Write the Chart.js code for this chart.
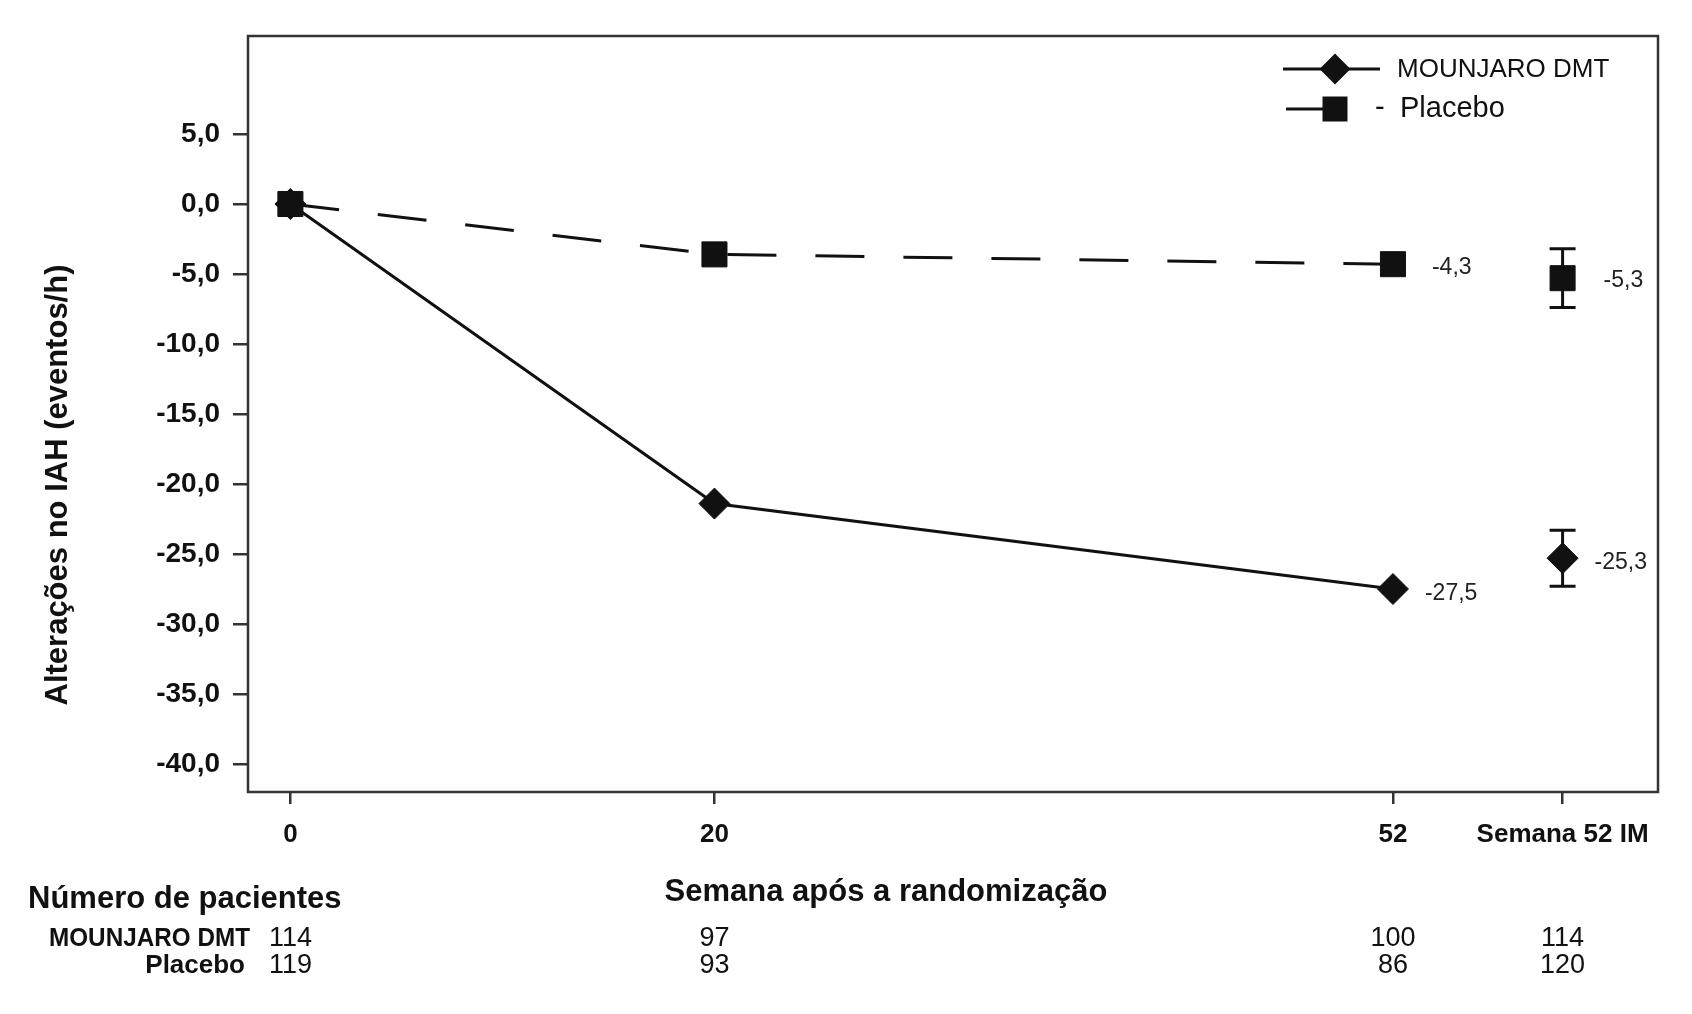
<!DOCTYPE html>
<html>
<head>
<meta charset="utf-8">
<script src="https://cdn.jsdelivr.net/npm/chart.js@4.4.1/dist/chart.umd.min.js"></script>
<style>
  html, body { margin: 0; padding: 0; background: #fff; }
  #wrap { width: 1692px; height: 1014px; }
</style>
</head>
<body>
<div id="wrap"><canvas id="iahChart" width="1692" height="1014"></canvas></div>
<script>
// values
const weeks = [0, 20, 52];
const imWeek = 60; // slot of "Semana 52 IM" on the week axis
const tirzValues = [0, -21.4, -27.5];
const placeboValues = [0, -3.6, -4.3];
const tirzIM = -25.3;
const placeboIM = -5.3;
const tirzIMci = [-27.3, -23.3];
const placeboIMci = [-7.4, -3.2];

const xTickValues = [0, 20, 52, 60];
const xTickLabels = ['0', '20', '52', 'Semana 52 IM'];
const yTickValues = [5, 0, -5, -10, -15, -20, -25, -30, -35, -40];

const seriesNames = ['MOUNJARO DMT', 'Placebo'];
const nTirz = [114, 97, 100, 114];
const nPlacebo = [119, 93, 86, 120];

const FONT = '"Liberation Sans", Arial, Helvetica, sans-serif';
const ink = '#111';
const frameColor = '#333';
Chart.defaults.font.family = FONT;

const toPts = (xs, ys) => xs.map((x, i) => ({ x: x, y: ys[i] }));
const fmt = v => v.toFixed(1).replace('.', ',');

function marker(ctx, style, x, y) {
  ctx.beginPath();
  if (style === 'rectRot') {
    const r = 15.5;
    ctx.moveTo(x - r, y); ctx.lineTo(x, y - r); ctx.lineTo(x + r, y); ctx.lineTo(x, y + r);
  } else {
    const h = 12.5;
    ctx.rect(x - h, y - h, 2 * h, 2 * h);
  }
  ctx.closePath();
  ctx.fill();
}

// error bars, frame, legend, value labels, titles and the patient table
const decor = {
  id: 'decor',
  beforeDatasetsDraw(chart) {
    const { ctx, scales: { x, y } } = chart;
    ctx.save();
    ctx.strokeStyle = ink;
    ctx.lineWidth = 3;
    [tirzIMci, placeboIMci].forEach(ci => {
      const px = x.getPixelForValue(imWeek);
      const y0 = y.getPixelForValue(ci[0]);
      const y1 = y.getPixelForValue(ci[1]);
      ctx.beginPath();
      ctx.moveTo(px, y0); ctx.lineTo(px, y1);
      ctx.moveTo(px - 13, y0); ctx.lineTo(px + 13, y0);
      ctx.moveTo(px - 13, y1); ctx.lineTo(px + 13, y1);
      ctx.stroke();
    });
    ctx.restore();
  },
  afterDatasetsDraw(chart) {
    const { ctx, chartArea: a, scales: { x, y } } = chart;
    ctx.save();

    // frame
    ctx.strokeStyle = frameColor;
    ctx.lineWidth = 2.5;
    ctx.strokeRect(a.left, a.top, a.right - a.left, a.bottom - a.top);

    // legend
    ctx.fillStyle = ink;
    ctx.strokeStyle = ink;
    ctx.lineWidth = 3;
    ctx.beginPath();
    ctx.moveTo(1283, 69); ctx.lineTo(1380, 69);
    ctx.moveTo(1286, 109); ctx.lineTo(1335, 109);
    ctx.stroke();
    marker(ctx, 'rectRot', 1335, 69);
    marker(ctx, 'rect', 1335, 109);
    ctx.textBaseline = 'middle';
    ctx.textAlign = 'left';
    ctx.font = '26px ' + FONT;
    ctx.fillText(seriesNames[0], 1397, 70);
    ctx.font = '29px ' + FONT;
    ctx.fillText('-', 1375, 108);
    ctx.fillText(seriesNames[1], 1400, 109);

    // value labels
    ctx.font = '23px ' + FONT;
    ctx.fillStyle = '#222';
    const lab = (wk, v, dx, dy) =>
      ctx.fillText(fmt(v), x.getPixelForValue(wk) + dx, y.getPixelForValue(v) + dy);
    lab(weeks[2], placeboValues[2], 39, 3);
    lab(weeks[2], tirzValues[2], 32, 5);
    lab(imWeek, placeboIM, 41, 2);
    lab(imWeek, tirzIM, 32, 4);

    // axis titles
    ctx.fillStyle = ink;
    ctx.font = 'bold 31px ' + FONT;
    ctx.textAlign = 'center';
    ctx.fillText('Semana após a randomização', 886, 892);
    ctx.save();
    ctx.translate(58, 485);
    ctx.rotate(-Math.PI / 2);
    ctx.font = 'bold 31px ' + FONT;
    ctx.fillText('Alterações no IAH (eventos/h)', 0, 0);
    ctx.restore();

    // patient numbers
    ctx.textAlign = 'left';
    ctx.font = 'bold 31px ' + FONT;
    ctx.fillText('Número de pacientes', 28, 899);
    ctx.textAlign = 'right';
    ctx.font = 'bold 26px ' + FONT;
    ctx.fillText(seriesNames[0], 250, 939, 201);
    ctx.fillText(seriesNames[1], 245, 966);
    ctx.textAlign = 'center';
    ctx.font = '27px ' + FONT;
    xTickValues.forEach((wk, i) => {
      const px = x.getPixelForValue(wk);
      ctx.fillText(String(nTirz[i]), px, 939);
      ctx.fillText(String(nPlacebo[i]), px, 966);
    });
    ctx.restore();
  }
};

const pointStyleOf = (style, r) => ({
  borderColor: ink, backgroundColor: ink, pointBackgroundColor: ink, pointBorderColor: ink,
  pointStyle: style, pointRadius: r, pointHoverRadius: r, pointBorderWidth: 1
});

new Chart(document.getElementById('iahChart'), {
  type: 'line',
  data: {
    datasets: [
      Object.assign({ label: seriesNames[1], data: toPts(weeks, placeboValues), borderWidth: 3, borderDash: [49, 39], tension: 0 }, pointStyleOf('rect', 17.7)),
      Object.assign({ label: seriesNames[0], data: toPts(weeks, tirzValues), borderWidth: 3, tension: 0 }, pointStyleOf('rectRot', 15.5)),
      Object.assign({ label: seriesNames[1] + ' IM', data: [{ x: imWeek, y: placeboIM }], showLine: false }, pointStyleOf('rect', 17.7)),
      Object.assign({ label: seriesNames[0] + ' IM', data: [{ x: imWeek, y: tirzIM }], showLine: false }, pointStyleOf('rectRot', 15.5))
    ]
  },
  options: {
    responsive: false,
    animation: false,
    devicePixelRatio: 1,
    layout: { padding: { left: 0, top: 36, right: 34, bottom: 0 } },
    plugins: { legend: { display: false }, tooltip: { enabled: false } },
    scales: {
      x: {
        type: 'linear',
        min: -2,
        max: 64.5,
        afterBuildTicks: s => { s.ticks = xTickValues.map(v => ({ value: v })); },
        afterFit: s => { s.height = 222; },
        ticks: {
          callback: (v, i) => xTickLabels[i],
          font: { size: 26, weight: 'bold' },
          color: ink,
          padding: 15,
          maxRotation: 0,
          autoSkip: false
        },
        grid: { drawOnChartArea: false, tickLength: 12, color: frameColor, lineWidth: 2.5 },
        border: { display: false }
      },
      y: {
        min: -42,
        max: 12,
        afterBuildTicks: s => { s.ticks = yTickValues.map(v => ({ value: v })); },
        afterFit: s => { s.width = 248; },
        ticks: {
          callback: v => fmt(v),
          font: { size: 28, weight: 'bold' },
          color: ink,
          padding: 13
        },
        grid: { drawOnChartArea: false, tickLength: 15, color: frameColor, lineWidth: 2.5 },
        border: { display: false }
      }
    }
  },
  plugins: [decor]
});
</script>
</body>
</html>
